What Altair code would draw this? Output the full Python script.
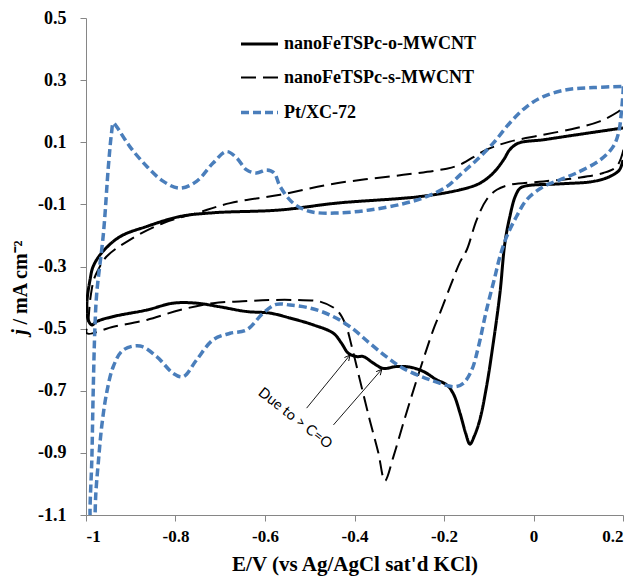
import altair as alt
import pandas as pd

# ---- data ----
series_names = ["nanoFeTSPc-o-MWCNT", "nanoFeTSPc-s-MWCNT", "Pt/XC-72"]

o_x = [0.200, 0.192, 0.171, 0.134, 0.059, -0.015, -0.030, -0.041, -0.053, -0.064, -0.075, -0.090,
       -0.105, -0.120, -0.132, -0.142, -0.152, -0.164, -0.179, -0.194, -0.216, -0.246, -0.276,
       -0.306, -0.336, -0.358, -0.380, -0.395, -0.414, -0.429, -0.447, -0.492, -0.544, -0.589,
       -0.641, -0.700, -0.753, -0.805, -0.864, -0.939, -0.976, -0.987, -0.995, -0.998, -0.991,
       -0.984, -0.965, -0.924, -0.864, -0.790, -0.716, -0.566, -0.440, -0.254, -0.164, -0.120,
       -0.090, -0.067, -0.053, -0.034, 0.022, 0.096, 0.200]
o_y = [0.043, 0.011, -0.010, -0.026, -0.034, -0.040, -0.048, -0.075, -0.140, -0.225, -0.386, -0.547,
       -0.687, -0.794, -0.845, -0.872, -0.835, -0.773, -0.710, -0.681, -0.665, -0.638, -0.624,
       -0.622, -0.628, -0.611, -0.590, -0.590, -0.579, -0.547, -0.515, -0.488, -0.466, -0.450,
       -0.445, -0.430, -0.418, -0.418, -0.440, -0.461, -0.477, -0.488, -0.472, -0.418, -0.343,
       -0.300, -0.256, -0.204, -0.171, -0.139, -0.127, -0.118, -0.096, -0.075, -0.053, -0.032,
       0.001, 0.043, 0.076, 0.097, 0.108, 0.124, 0.146]

s_x = [0.201, 0.186, 0.156, 0.096, 0.022, -0.053, -0.082, -0.105, -0.127, -0.149, -0.164, -0.185,
       -0.209, -0.224, -0.261, -0.291, -0.313, -0.332, -0.347, -0.366, -0.388, -0.406, -0.421,
       -0.440, -0.477, -0.529, -0.589, -0.650, -0.716, -0.790, -0.864, -0.939, -0.998, -0.995,
       -0.990, -0.982, -0.973, -0.954, -0.902, -0.827, -0.753, -0.678, -0.566, -0.440, -0.291,
       -0.194, -0.164, -0.105, -0.053, 0.022, 0.096, 0.148, 0.190, 0.200]
s_y = [0.076, 0.022, 0.001, -0.015, -0.026, -0.037, -0.053, -0.085, -0.150, -0.246, -0.285, -0.360,
       -0.450, -0.504, -0.665, -0.805, -0.912, -0.990, -0.898, -0.794, -0.665, -0.558, -0.483,
       -0.440, -0.413, -0.408, -0.408, -0.412, -0.418, -0.440, -0.472, -0.494, -0.515, -0.480,
       -0.400, -0.340, -0.311, -0.268, -0.214, -0.160, -0.128, -0.096, -0.069, -0.032, -0.005,
       0.015, 0.028, 0.076, 0.102, 0.124, 0.146, 0.167, 0.199, 0.210]

p_x = [0.201, 0.197, 0.190, 0.178, 0.149, 0.096, 0.059, 0.022, -0.015, -0.038, -0.060, -0.075,
       -0.086, -0.105, -0.123, -0.138, -0.157, -0.176, -0.231, -0.291, -0.329, -0.366, -0.410,
       -0.455, -0.499, -0.544, -0.575, -0.604, -0.641, -0.678, -0.716, -0.753, -0.783, -0.805,
       -0.842, -0.879, -0.917, -0.939, -0.954, -0.965, -0.972, -0.978, -0.981, -0.985, -0.989,
       -0.991, -0.987, -0.984, -0.980, -0.976, -0.961, -0.950, -0.943, -0.939, -0.932, -0.902,
       -0.864, -0.827, -0.790, -0.753, -0.716, -0.686, -0.663, -0.641, -0.619, -0.596, -0.580,
       -0.566, -0.537, -0.499, -0.440, -0.366, -0.291, -0.239, -0.194, -0.164, -0.127, -0.090,
       -0.053, -0.015, 0.022, 0.074, 0.134, 0.201]
p_y = [0.280, 0.205, 0.130, 0.086, 0.043, 0.001, -0.021, -0.043, -0.085, -0.139, -0.204, -0.268,
       -0.332, -0.440, -0.558, -0.633, -0.676, -0.687, -0.665, -0.628, -0.590, -0.547, -0.494,
       -0.456, -0.434, -0.424, -0.422, -0.450, -0.504, -0.515, -0.536, -0.601, -0.655, -0.644,
       -0.590, -0.556, -0.569, -0.622, -0.708, -0.816, -0.923, -1.030, -1.150, -1.220, -1.150,
       -1.095, -0.923, -0.708, -0.494, -0.386, -0.193, 0.022, 0.129, 0.162, 0.151, 0.086,
       0.022, -0.026, -0.048, -0.026, 0.033, 0.070, 0.049, 0.011, 0.001, 0.011, 0.002,
       -0.043, -0.096, -0.123, -0.128, -0.118, -0.098, -0.075, -0.043, -0.005, 0.043, 0.097,
       0.162, 0.215, 0.247, 0.269, 0.276, 0.280]

x_ticks = [-1.0, -0.8, -0.6, -0.4, -0.2, 0.0, 0.2]
y_ticks = [0.5, 0.3, 0.1, -0.1, -0.3, -0.5, -0.7, -0.9, -1.1]

y_title_symbol = ["j"]          # italic part of the y-axis title
y_title_rest = "/ mA cm⁻²"      # upright part of the y-axis title

note_text = ["Due to > C=O"]
note_x = [-0.533]
note_y = [-0.790]

arrow_x1 = [-0.507, -0.447]
arrow_y1 = [-0.756, -0.810]
arrow_x2 = [-0.410, -0.339]
arrow_y2 = [-0.585, -0.631]
arrow_angle = [39, 41]

# ---- tables ----
rows = []
for name, xs, ys in zip(series_names, [o_x, s_x, p_x], [o_y, s_y, p_y]):
    for i, (xv, yv) in enumerate(zip(xs, ys)):
        rows.append({"series": name, "E": xv, "j": yv, "idx": i})
df = pd.DataFrame(rows)

notes = pd.DataFrame({"text": note_text, "E": note_x, "j": note_y})
arrows = pd.DataFrame({"E": arrow_x1, "j": arrow_y1, "E2": arrow_x2, "j2": arrow_y2, "ang": arrow_angle})
ysym = pd.DataFrame({"t": y_title_symbol})

serif = "Liberation Serif"
axis_gray = "#868686"

xscale = alt.Scale(domain=[-1.0, 0.2], nice=False, zero=False)
yscale = alt.Scale(domain=[-1.1, 0.5], nice=False, zero=False)

legend = alt.Legend(
    title=None, orient="none", legendX=153, legendY=6,
    symbolType="stroke", symbolSize=1369, rowPadding=5, labelOffset=4,
    labelFont=serif, labelFontSize=18, labelFontWeight="bold", labelColor="black",
    padding=0, labelLimit=400,
)

lines = alt.Chart(df).mark_line(clip=True, interpolate="catmull-rom").encode(
    x=alt.X("E:Q", scale=xscale, axis=alt.Axis(
        values=x_ticks, title="E/V (vs Ag/AgCl sat'd KCl)",
        labelExpr="toString(round(datum.value*10)/10)",
        grid=False, domainColor=axis_gray, tickColor=axis_gray, tickSize=6,
        labelFont=serif, labelFontSize=17, labelFontWeight="bold", labelColor="black",
        labelPadding=7, titleFont=serif, titleFontSize=21, titleFontWeight="bold",
        titleColor="black", titlePadding=9)),
    y=alt.Y("j:Q", scale=yscale, axis=alt.Axis(
        values=y_ticks, title=y_title_rest,
        labelExpr="toString(round(datum.value*10)/10)",
        grid=False, domainColor=axis_gray, tickColor=axis_gray, tickSize=6,
        labelFont=serif, labelFontSize=18, labelFontWeight="bold", labelColor="black",
        labelPadding=14, titleFont=serif, titleFontSize=20, titleFontWeight="bold",
        titleColor="black", titleX=-56, titleY=264, titleBaseline="bottom")),
    order="idx:Q",
    color=alt.Color("series:N", scale=alt.Scale(domain=series_names, range=["black", "black", "#4a7ebb"]), legend=legend),
    strokeDash=alt.StrokeDash("series:N", scale=alt.Scale(domain=series_names, range=[[1, 0], [15, 7], [8, 4]]), legend=legend),
    strokeWidth=alt.StrokeWidth("series:N", scale=alt.Scale(type="ordinal", domain=series_names, range=[3, 2, 3.5]), legend=legend),
)

ytitle_j = alt.Chart(ysym).mark_text(
    angle=270, baseline="bottom", align="center", font=serif, fontSize=20,
    fontStyle="italic", fontWeight="bold", color="black"
).encode(x=alt.value(-56), y=alt.value(314), text="t:N")

note = alt.Chart(notes).mark_text(angle=38, font="Lato", fontSize=14.5, color="black").encode(
    x=alt.X("E:Q", scale=xscale), y=alt.Y("j:Q", scale=yscale), text="text:N")

arrow_lines = alt.Chart(arrows).mark_rule(color="black", strokeWidth=0.9).encode(
    x=alt.X("E:Q", scale=xscale), y=alt.Y("j:Q", scale=yscale), x2="E2:Q", y2="j2:Q")

arrow_heads = alt.Chart(arrows).mark_point(
    shape="M -0.5 1 L 0 0 L 0.5 1", filled=False, color="black", strokeWidth=0.9, size=120, opacity=1
).encode(x=alt.X("E2:Q", scale=xscale), y=alt.Y("j2:Q", scale=yscale), angle=alt.Angle("ang:Q", scale=None))

chart = alt.layer(lines, arrow_lines, arrow_heads, note, ytitle_j).properties(
    width=537, height=497,
    autosize=alt.AutoSizeParams(type="none"),
    padding={"left": 86, "top": 18, "right": 13, "bottom": 62},
    background="white",
).configure_view(stroke=None)

chart.save("out.html", embed_options={"renderer": "svg", "actions": False})
